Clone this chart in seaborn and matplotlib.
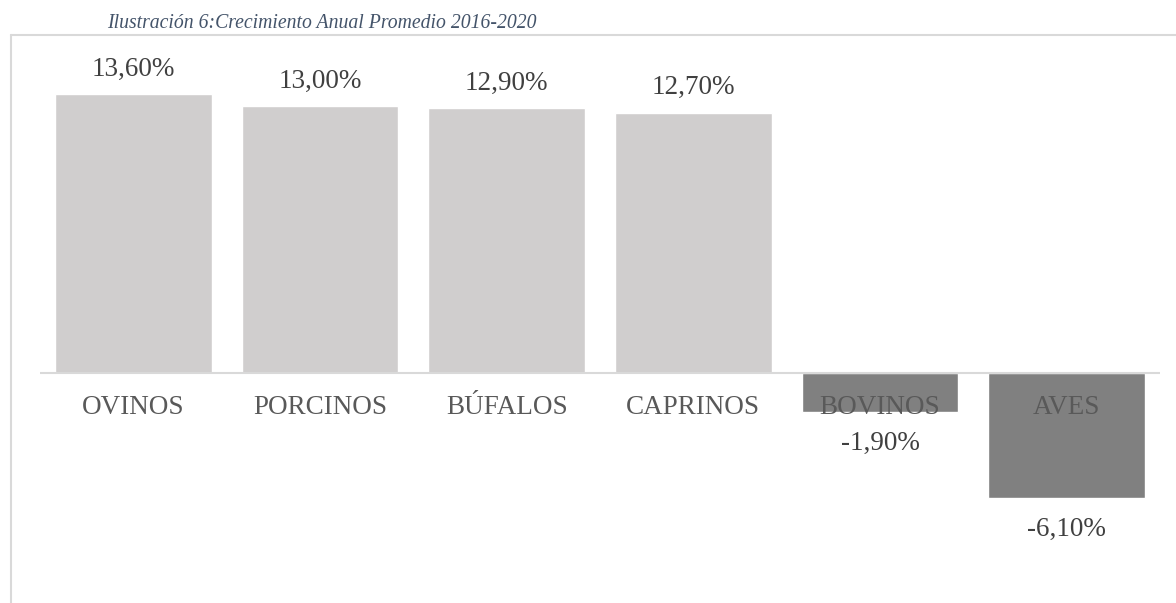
import matplotlib
matplotlib.use("Agg")
import matplotlib.pyplot as plt
import seaborn as sns
from matplotlib.lines import Line2D

# datos
categorias = ["OVINOS", "PORCINOS", "BÚFALOS", "CAPRINOS", "BOVINOS", "AVES"]
crecimiento = [13.6, 13.0, 12.9, 12.7, -1.9, -6.1]
titulo = "Ilustración 6:Crecimiento Anual Promedio 2016-2020"

colores = ["#d0cece" if v >= 0 else "#808080" for v in crecimiento]

sns.set_style("white")
plt.rcParams["font.family"] = ["Liberation Serif", "DejaVu Serif"]

fig = plt.figure(figsize=(11.76, 6.03), dpi=100)
ax = fig.add_axes([40 / 1176, 43 / 603, 1120 / 1176, 520 / 603])

sns.barplot(x=categorias, y=crecimiento, hue=categorias, palette=colores,
            legend=False, width=0.84, saturation=1, ax=ax)

ax.set_xlim(-0.5, 5.5)
ax.set_ylim(-9.12, 16.24)
ax.axhline(0, color="#d9d9d9", lw=1.5, zorder=1)
for s in ax.spines.values():
    s.set_visible(False)
ax.set_xticks([])
ax.set_yticks([])
ax.set_xlabel("")
ax.set_ylabel("")

# etiquetas de valor
for i, v in enumerate(crecimiento):
    txt = f"{v:.2f}%".replace(".", ",")
    off = 25 if v >= 0 else -31
    ax.annotate(txt, (i, v), xytext=(0, off), textcoords="offset pixels",
                ha="center", va="center", fontsize=19.5, color="#404040")

# etiquetas de categoria
for i, c in enumerate(categorias):
    ax.annotate(c, (i, 0), xytext=(0, -35), textcoords="offset pixels",
                ha="center", va="center", fontsize=19.5, color="#595959", zorder=5)

# marco
fig.add_artist(Line2D([11 / 1176, 11 / 1176], [0, 1 - 35 / 603],
                      transform=fig.transFigure, color="#d9d9d9", lw=1.5))
fig.add_artist(Line2D([11 / 1176, 1], [1 - 35 / 603, 1 - 35 / 603],
                      transform=fig.transFigure, color="#d9d9d9", lw=1.5))

fig.text(107 / 1176, 1 - 24 / 603, titulo, ha="left", va="center",
         style="italic", fontsize=14.2, color="#44546A")

fig.savefig("out.png", dpi=100)
